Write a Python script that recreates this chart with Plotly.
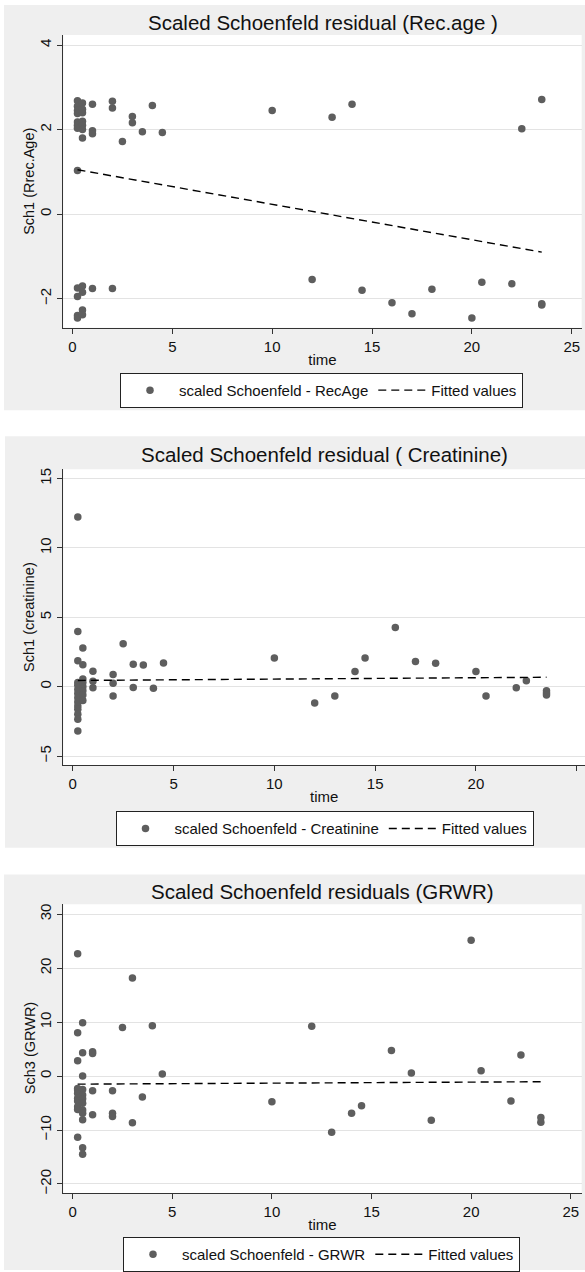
import plotly.graph_objects as go

# ---------------- data ----------------
# Panel 1: Rec.age
t1 = [0.25]*8 + [0.5]*7 + [1]*3 + [2]*2 + [2.5, 3, 3, 3.5, 4, 4.5, 10, 13, 14, 22.5, 23.5] \
     + [0.25]*4 + [0.5]*4 + [1, 2, 12, 14.5, 16, 17, 18, 20, 20.5, 22, 23.5, 23.5]
r1 = [2.68, 2.55, 2.45, 2.38, 2.18, 2.10, 2.03, 1.03,
      2.63, 2.48, 2.40, 2.20, 2.10, 2.00, 1.80,
      2.60, 1.97, 1.90,
      2.67, 2.51,
      1.72, 2.31, 2.16, 1.95, 2.57, 1.93, 2.45, 2.29, 2.60, 2.02, 2.71,
      -1.75, -1.95, -2.40, -2.46,
      -1.70, -1.85, -2.27, -2.38,
      -1.76, -1.76, -1.55, -1.80, -2.10, -2.36, -1.78, -2.46, -1.61, -1.65, -2.12, -2.15]
fit1_t = [0.25, 23.5]
fit1_y = [1.05, -0.90]

# Panel 2: Creatinine
t2 = [0.25]*14 + [0.5]*8 + [1]*3 + [2]*3 + [2.5, 3, 3, 3.5, 4, 4.5, 10, 12, 13, 14, 14.5, 16,
                                            17, 18, 20, 20.5, 22, 22.5, 23.5, 23.5, 23.5]
r2 = [12.23, 3.98, 1.87, 0.30, 0.10, -0.20, -0.50, -0.80, -1.10, -1.40, -1.63, -1.98, -2.34, -3.19,
      2.78, 1.58, 0.55, 0.30, 0.00, -0.30, -0.60, -1.00,
      1.12, 0.40, -0.07,
      0.88, 0.24, -0.67,
      3.09, 1.62, -0.05, 1.56, -0.12, 1.70, 2.06, -1.18, -0.67, 1.10, 2.06, 4.27,
      1.82, 1.68, 1.10, -0.67, -0.07, 0.43, -0.30, -0.45, -0.60]
fit2_t = [0.25, 23.5]
fit2_y = [0.45, 0.68]

# Panel 3: GRWR
t3 = [0.25]*11 + [0.5]*12 + [1]*4 + [2]*3 + [2.5, 3, 3, 3.5, 4, 4.5, 10, 12, 13, 14, 14.5, 16,
                                            17, 18, 20, 20.5, 22, 22.5, 23.5, 23.5]
r3 = [22.67, 8.04, 2.85, -2.3, -2.6, -3.2, -4.1, -4.6, -5.7, -6.2, -11.35,
      9.88, 4.33, 0.0, -2.5, -3.5, -4.2, -5.05, -6.3, -6.9, -8.1, -13.27, -14.5,
      4.5, 4.2, -2.7, -7.15,
      -2.7, -6.9, -7.5,
      9.02, 18.2, -8.64, -3.89, 9.33, 0.37, -4.75, 9.26, -10.43, -6.9, -5.49, 4.76,
      0.56, -8.2, 25.19, 0.99, -4.62, 3.9, -7.7, -8.57]
fit3_t = [0.25, 23.5]
fit3_y = [-1.50, -1.05]

titles = ["Scaled Schoenfeld residual (Rec.age )",
          "Scaled Schoenfeld residual ( Creatinine)",
          "Scaled Schoenfeld residuals (GRWR)"]
ytitles = ["Sch1 (Rrec.Age)", "Sch1 (creatinine)", "Sch3 (GRWR)"]
legend_names = ["scaled Schoenfeld - RecAge",
                "scaled Schoenfeld - Creatinine",
                "scaled Schoenfeld - GRWR"]
fit_name = "Fitted values"
xtick_vals = [0, 5, 10, 15, 20, 25]
ytick_vals = [[-2, 0, 2, 4], [-5, 0, 5, 10, 15], [-20, -10, 0, 10, 20, 30]]

# ---------------- layout geometry (pixels) ----------------
W, H = 585, 1272
FONT = "Liberation Sans, Arial, sans-serif"
MARKER = "#5e5e5e"
PANEL = "#efefef"

panels = [
    dict(gray=(4, 5, 585, 411), plot=(63.3, 35, 581.7, 328.3), title_y=23,
         xr=[-0.46, 25.5], yr=[-2.69, 4.24], leg=(321.5, 391)),
    dict(gray=(5, 437, 585, 849), plot=(63.3, 470, 585, 766.7), title_y=455.7,
         xr=[-0.47, 25.41], yr=[-5.68, 15.67], leg=(324.5, 830)),
    dict(gray=(4, 876, 585, 1272), plot=(63.3, 905.7, 581.7, 1195), title_y=893,
         xr=[-0.47, 25.55], yr=[-21.7, 31.85], leg=(321.5, 1256.5)),
]


def fx(px):
    return px / W


def fy(py):
    return 1 - py / H


series = [(t1, r1, fit1_t, fit1_y), (t2, r2, fit2_t, fit2_y), (t3, r3, fit3_t, fit3_y)]

fig = go.Figure()
shapes = []
annotations = []
layout = dict(
    width=W, height=H, margin=dict(l=0, r=0, t=0, b=0),
    paper_bgcolor="white", plot_bgcolor="white",
    font=dict(family=FONT, color="#111", size=15),
    showlegend=True,
)

for i, (p, (tx, ty, ft, fyv)) in enumerate(zip(panels, series)):
    n = "" if i == 0 else str(i + 1)
    leg = "legend" if i == 0 else f"legend{i + 1}"
    fig.add_trace(go.Scatter(
        x=tx, y=ty, mode="markers", name=legend_names[i],
        marker=dict(color=MARKER, size=7.5, line=dict(width=0)),
        xaxis="x" + n, yaxis="y" + n, legend=leg))
    fig.add_trace(go.Scatter(
        x=ft, y=fyv, mode="lines", name=fit_name,
        line=dict(color="black", width=1.4, dash="8px,5px"),
        xaxis="x" + n, yaxis="y" + n, legend=leg))

    gx0, gy0, gx1, gy1 = p["gray"]
    x0, y0, x1, y1 = p["plot"]
    shapes.append(dict(type="rect", xref="paper", yref="paper", layer="below",
                       x0=fx(gx0), x1=fx(gx1), y0=fy(gy1), y1=fy(gy0),
                       fillcolor=PANEL, line=dict(width=0)))
    shapes.append(dict(type="rect", xref="paper", yref="paper", layer="below",
                       x0=fx(x0), x1=fx(x1), y0=fy(y1), y1=fy(y0),
                       fillcolor="white", line=dict(width=0)))

    layout["xaxis" + n] = dict(
        domain=[fx(x0), fx(x1)], range=p["xr"], anchor="y" + n,
        tickvals=xtick_vals, ticks="outside", ticklen=5, tickcolor="#333",
        showline=True, linecolor="#333", linewidth=1, showgrid=False, zeroline=False,
        tickfont=dict(size=15, color="#111"),
        title=dict(text="time", font=dict(size=15, color="#111"), standoff=0),
        automargin=False, fixedrange=True)
    layout["yaxis" + n] = dict(
        domain=[fy(y1), fy(y0)], range=p["yr"], anchor="x" + n,
        tickvals=ytick_vals[i], ticks="outside", ticklen=5, tickcolor="#333",
        tickangle=-90,
        showline=True, linecolor="#333", linewidth=1,
        showgrid=True, gridcolor="#e3e3e3", gridwidth=1, zeroline=False,
        tickfont=dict(size=15, color="#111"),
        automargin=False, fixedrange=True)
    annotations.append(dict(text=titles[i], xref="paper", yref="paper",
                            x=fx((x0 + x1) / 2), y=fy(p["title_y"]),
                            xanchor="center", yanchor="middle", showarrow=False,
                            font=dict(size=20.5, color="#111", family=FONT)))
    annotations.append(dict(text=ytitles[i], xref="paper", yref="paper",
                            x=fx(29.5), y=fy((y0 + y1) / 2), textangle=-90,
                            xanchor="center", yanchor="middle", showarrow=False,
                            font=dict(size=14.5, color="#111", family=FONT)))
    lx, ly = p["leg"]
    layout[leg] = dict(
        x=fx(lx), y=fy(ly), xanchor="center", yanchor="middle",
        orientation="h", bgcolor="white", bordercolor="#222", borderwidth=1,
        font=dict(size=15, color="#111", family=FONT), itemwidth=48,
        itemclick=False, itemdoubleclick=False)

layout["shapes"] = shapes
layout["annotations"] = annotations
fig.update_layout(**layout)

fig.write_html("out.html")
